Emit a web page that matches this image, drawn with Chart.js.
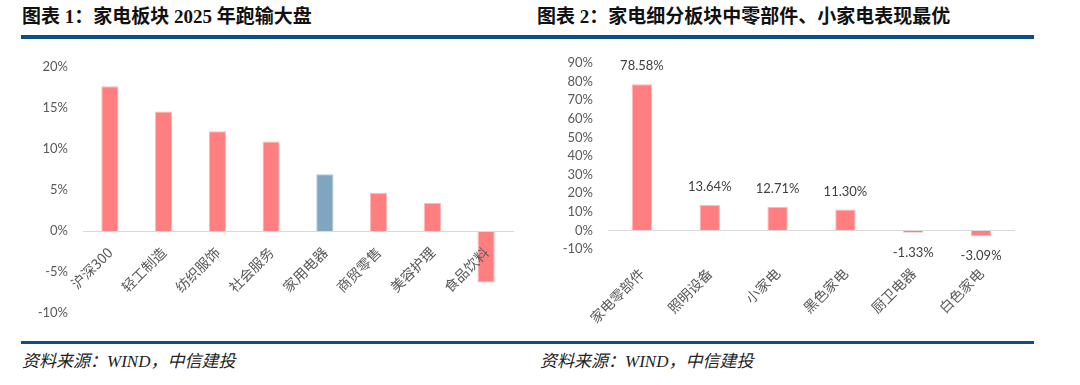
<!DOCTYPE html>
<html><head><meta charset="utf-8">
<script src="https://cdn.jsdelivr.net/npm/chart.js@4"></script>
<style>
html,body{margin:0;padding:0;background:#fff;width:1080px;height:385px;overflow:hidden;position:relative}
.title{position:absolute;top:4px;font-family:"Liberation Serif","Noto Sans CJK SC",serif;font-weight:bold;font-size:19px;color:#111;white-space:nowrap;line-height:26px}
.rule{position:absolute;height:4px;background:#0C4E8A}
.src{position:absolute;top:350px;font-family:"Liberation Serif","Noto Sans CJK SC",serif;font-style:italic;font-size:17px;color:#222;white-space:nowrap;line-height:24px}
canvas{position:absolute;top:0}
</style></head>
<body>
<div class="title" style="left:22px">图表 1：家电板块 2025 年跑输大盘</div>
<div class="title" style="left:537px">图表 2：家电细分板块中零部件、小家电表现最优</div>
<div class="rule" style="left:21px;width:1013px;top:35px"></div>
<div class="rule" style="left:21px;width:1013px;top:341px;height:3px"></div>
<div class="src" style="left:22px">资料来源：WIND，中信建投</div>
<div class="src" style="left:540px">资料来源：WIND，中信建投</div>
<canvas id="c1" width="540" height="385" style="left:0"></canvas>
<canvas id="c2" width="540" height="385" style="left:540px"></canvas>
<script>
// ---- data ----
const leftCategories = ['沪深300','轻工制造','纺织服饰','社会服务','家用电器','商贸零售','美容护理','食品饮料'];
const leftValues = [17.66, 14.56, 12.17, 10.90, 6.93, 4.66, 3.40, -6.29];
const leftHighlight = '家用电器';
const leftAxisMin = -10, leftAxisMax = 20, leftAxisStep = 5;

const rightCategories = ['家电零部件','照明设备','小家电','黑色家电','厨卫电器','白色家电'];
const rightValues = [78.58, 13.64, 12.71, 11.30, -1.33, -3.09];
const rightAxisMin = -10, rightAxisMax = 90, rightAxisStep = 10;

// ---- styles ----
const PINK = '#FF7F80', BLUE = '#7FA5BF', TICK = '#595959', ZERO = '#D9D9D9';
const numFont = {family: 'Lato, "Liberation Sans", sans-serif', size: 13};
const catFont = {family: '"Noto Sans CJK SC", sans-serif', size: 14};
const pct = v => v + '%';

const valueLabels = {
  id: 'valueLabels',
  afterDatasetsDraw(chart) {
    const ctx = chart.ctx;
    const meta = chart.getDatasetMeta(0);
    const data = chart.data.datasets[0].data;
    ctx.save();
    ctx.font = '13px Lato, "Liberation Sans", sans-serif';
    ctx.fillStyle = '#404040';
    ctx.textAlign = 'center';
    ctx.textBaseline = 'middle';
    meta.data.forEach((bar, i) => {
      const v = data[i];
      const y = v >= 0 ? bar.y - 18 : bar.y + 20;
      ctx.fillText(v.toFixed(2) + '%', bar.x, y);
    });
    ctx.restore();
  }
};

new Chart(document.getElementById('c1'), {
  type: 'bar',
  data: {
    labels: leftCategories,
    datasets: [{
      data: leftValues,
      backgroundColor: c => leftCategories[c.dataIndex] === leftHighlight ? BLUE : PINK,
      borderColor: c => leftCategories[c.dataIndex] === leftHighlight ? '#A9C3D5' : '#FFB8B8',
      borderWidth: 1,
      barPercentage: 0.32,
      categoryPercentage: 1
    }]
  },
  options: {
    responsive: false, animation: false, devicePixelRatio: 1,
    layout: {padding: {left: 23, right: 27, top: 67, bottom: 72}},
    plugins: {legend: {display: false}, tooltip: {enabled: false}},
    scales: {
      x: {
        position: {y: 0},
        grid: {display: false, drawTicks: false},
        border: {display: true, color: ZERO, width: 1, z: 1},
        ticks: {z: 1, minRotation: 45, maxRotation: 45, padding: 13, color: TICK, font: catFont, autoSkip: false}
      },
      y: {
        min: leftAxisMin, max: leftAxisMax,
        ticks: {stepSize: leftAxisStep, padding: 15, color: TICK, font: numFont, callback: pct},
        grid: {display: false, drawTicks: false},
        border: {display: false},
        afterFit: s => { s.width = 60; }
      }
    }
  }
});

new Chart(document.getElementById('c2'), {
  type: 'bar',
  data: {
    labels: rightCategories,
    datasets: [{
      data: rightValues,
      backgroundColor: PINK,
      borderColor: '#FFB8B8',
      borderWidth: 1,
      barPercentage: 0.3,
      categoryPercentage: 1
    }]
  },
  options: {
    responsive: false, animation: false, devicePixelRatio: 1,
    layout: {padding: {left: 8, right: 65, top: 63, bottom: 0}},
    plugins: {legend: {display: false}, tooltip: {enabled: false}},
    scales: {
      x: {
        position: 'bottom',
        grid: {display: false, drawTicks: false},
        border: {display: false},
        ticks: {minRotation: 45, maxRotation: 45, padding: 16, color: TICK, font: catFont, autoSkip: false},
        afterFit: s => { s.height = 136; }
      },
      y: {
        min: rightAxisMin, max: rightAxisMax,
        ticks: {stepSize: rightAxisStep, padding: 15, color: TICK, font: numFont, callback: pct},
        grid: {drawTicks: false, color: c => (c.tick && c.tick.value === 0) ? ZERO : 'rgba(0,0,0,0)'},
        border: {display: false},
        afterFit: s => { s.width = 60; }
      }
    }
  },
  plugins: [valueLabels]
});
</script>
</body></html>
